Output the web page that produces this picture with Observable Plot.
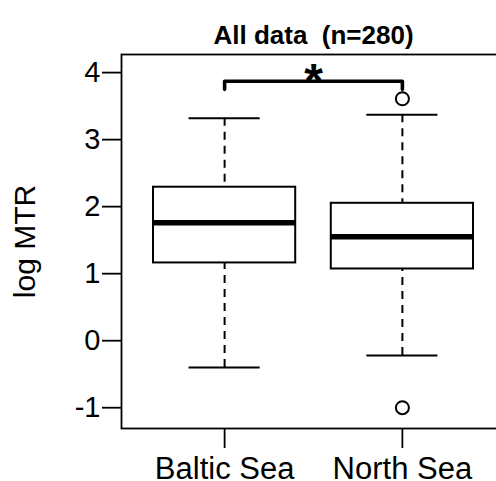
<!DOCTYPE html>
<html><head><meta charset="utf-8">
<script src="https://cdn.jsdelivr.net/npm/d3@7"></script>
<script src="https://cdn.jsdelivr.net/npm/@observablehq/plot@0.6"></script>
<style>html,body{margin:0;padding:0;background:#fff;overflow:hidden;width:496px;height:481px}#chart{width:496px;height:481px;overflow:hidden}</style>
</head><body><div id="chart"></div>
<script>
// ---- data ----
const categories = ["Baltic Sea", "North Sea"];
const lowerWhisker = [-0.40, -0.22];
const q1 = [1.16, 1.07];
const median = [1.76, 1.55];
const q3 = [2.29, 2.05];
const upperWhisker = [3.32, 3.37];
const outlierGroup = ["North Sea", "North Sea"];
const outlierValue = [3.61, -1.00];
const yTicks = [-1, 0, 1, 2, 3, 4];
const title = "All data  (n=280)";
const yLabel = "log MTR";
const bracketGroups = ["Baltic Sea", "North Sea"];
const bracketTop = 3.87, bracketBottom = 3.75;
const significance = "*";

// ---- build tables ----
const pos = c => categories.indexOf(c) + 1;
const boxes = categories.map((c, i) => ({
  pos: i + 1, lo: lowerWhisker[i], q1: q1[i], med: median[i], q3: q3[i], hi: upperWhisker[i]
}));
const outliers = outlierGroup.map((g, i) => ({pos: pos(g), v: outlierValue[i]}));
const bracket = [
  {x: pos(bracketGroups[0]), y: bracketBottom},
  {x: pos(bracketGroups[0]), y: bracketTop},
  {x: pos(bracketGroups[1]), y: bracketTop},
  {x: pos(bracketGroups[1]), y: bracketBottom}
];
const mid = (pos(bracketGroups[0]) + pos(bracketGroups[1])) / 2;

const font = "'Liberation Sans', Arial, sans-serif";
const lw = 1.8;

const chart = Plot.plot({
  width: 496,
  height: 481,
  marginLeft: 121,
  marginRight: -9,
  marginTop: 54,
  marginBottom: 53,
  style: {fontFamily: font, color: "black", background: "white"},
  x: {type: "linear", domain: [0.42, 2.58]},
  y: {domain: [-1.31, 4.27]},
  marks: [
    // whiskers (dashed), drawn from whisker end toward box
    Plot.ruleX(boxes, {x: "pos", y1: "hi", y2: "q3", stroke: "black", strokeWidth: 2, strokeDasharray: "8,6"}),
    Plot.ruleX(boxes, {x: "pos", y1: "lo", y2: "q1", stroke: "black", strokeWidth: 2, strokeDasharray: "8,6"}),
    // whisker caps
    Plot.ruleY(boxes, {y: "hi", x1: d => d.pos - 0.2, x2: d => d.pos + 0.2, stroke: "black", strokeWidth: 2}),
    Plot.ruleY(boxes, {y: "lo", x1: d => d.pos - 0.2, x2: d => d.pos + 0.2, stroke: "black", strokeWidth: 2}),
    // boxes
    Plot.rect(boxes, {x1: d => d.pos - 0.4, x2: d => d.pos + 0.4, y1: "q1", y2: "q3", fill: "white", stroke: "black", strokeWidth: 2}),
    // medians
    Plot.ruleY(boxes, {y: "med", x1: d => d.pos - 0.4, x2: d => d.pos + 0.4, stroke: "black", strokeWidth: 5.5}),
    // outliers
    Plot.dot(outliers, {x: "pos", y: "v", r: 6.5, stroke: "black", strokeWidth: 2, fill: "white"}),
    // significance bracket
    Plot.line(bracket, {x: "x", y: "y", stroke: "black", strokeWidth: 3.6, strokeLinejoin: "round", strokeLinecap: "round"}),
    Plot.text([significance], {x: mid, y: bracketTop, text: d => d, fontSize: 48, fontWeight: "bold", fill: "black"}),
    // frame
    Plot.frame({stroke: "black", strokeWidth: lw}),
    // axes
    Plot.axisY({ticks: yTicks, tickSize: 19, tickPadding: 2, fontSize: 29, label: null, strokeWidth: lw, tickFormat: d => String(d).replace("−", "-")}),
    Plot.axisX({ticks: [1, 2], tickSize: 20, tickPadding: 8, fontSize: 31, label: null, strokeWidth: lw, tickFormat: d => categories[d - 1]}),
    // title & y label
    Plot.text([title], {frameAnchor: "top", dy: -29, text: d => d, fontSize: 26, fontWeight: "bold", fill: "black"}),
    Plot.text([yLabel], {frameAnchor: "left", textAnchor: "middle", dx: -96, rotate: -90, text: d => d, fontSize: 30, fill: "black"})
  ]
});
document.getElementById("chart").appendChild(chart);
</script>
</body></html>
